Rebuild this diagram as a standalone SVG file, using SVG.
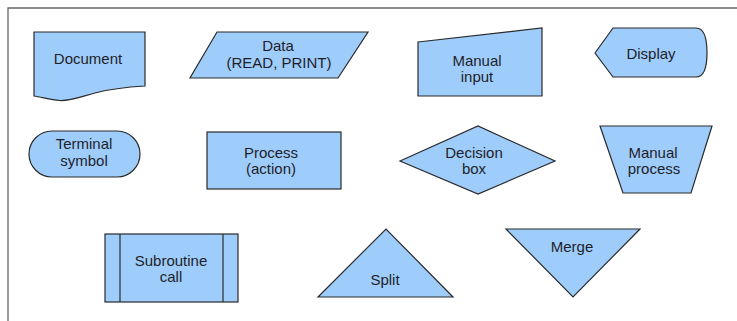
<svg xmlns="http://www.w3.org/2000/svg" width="737" height="321" viewBox="0 0 737 321">
  <style>
    .shape { fill: #9fcdfb; stroke: #2a2a2a; stroke-width: 1.2; stroke-linejoin: miter; }
    .line { fill: none; stroke: #2a2a2a; stroke-width: 1.2; }
    .label { font-family: "Liberation Sans", Arial, sans-serif; font-size: 15px; fill: #1e1e2a; text-anchor: middle; }
    .frame { fill: none; stroke: #666; stroke-width: 1.3; }
  </style>
  <rect width="737" height="321" fill="#ffffff"/>

  <!-- page frame (top and left edges) -->
  <path class="frame" d="M8,321 V8 H737"/>

  <g id="connectors"/>

  <g id="document">
    <path class="shape" d="M34,32 H145 V86 C128,87 110,89 95,93 C80,97 70,101 60,100.5 C50,100 42,97 34,96 Z"/>
    <text class="label" x="88" y="64">Document</text>
  </g>

  <g id="data">
    <polygon class="shape" points="217,32 368,32 338,78 190,78"/>
    <text class="label" x="278" y="51">Data</text>
    <text class="label" x="279" y="68">(READ, PRINT)</text>
  </g>

  <g id="manual-input">
    <polygon class="shape" points="418,42 542,28 542,96 418,96"/>
    <text class="label" x="477" y="66">Manual</text>
    <text class="label" x="477" y="82">input</text>
  </g>

  <g id="display">
    <path class="shape" d="M595,53 L613,28 H696 C704,28 707,39 707,53 C707,67 704,77 696,77 H613 Z"/>
    <text class="label" x="651" y="59">Display</text>
  </g>

  <g id="terminal">
    <rect class="shape" x="29" y="131" width="111" height="46" rx="23" ry="23"/>
    <text class="label" x="84" y="149">Terminal</text>
    <text class="label" x="84" y="166">symbol</text>
  </g>

  <g id="process">
    <rect class="shape" x="207" y="132" width="134" height="57"/>
    <text class="label" x="271" y="158">Process</text>
    <text class="label" x="271" y="174">(action)</text>
  </g>

  <g id="decision">
    <polygon class="shape" points="400,161 478,126 555,161 478,194"/>
    <text class="label" x="474" y="158">Decision</text>
    <text class="label" x="474" y="174">box</text>
  </g>

  <g id="manual-process">
    <polygon class="shape" points="600,126 712,126 691,193 623,193"/>
    <text class="label" x="653" y="158">Manual</text>
    <text class="label" x="654" y="174">process</text>
  </g>

  <g id="subroutine">
    <rect class="shape" x="105" y="234" width="133" height="68"/>
    <line class="line" x1="120" y1="234" x2="120" y2="302"/>
    <line class="line" x1="223" y1="234" x2="223" y2="302"/>
    <text class="label" x="171" y="266">Subroutine</text>
    <text class="label" x="171" y="282">call</text>
  </g>

  <g id="split">
    <polygon class="shape" points="318,297 386,229 453,297"/>
    <text class="label" x="385" y="285">Split</text>
  </g>

  <g id="merge">
    <polygon class="shape" points="506,229 640,229 573,297"/>
    <text class="label" x="572" y="252">Merge</text>
  </g>
</svg>
